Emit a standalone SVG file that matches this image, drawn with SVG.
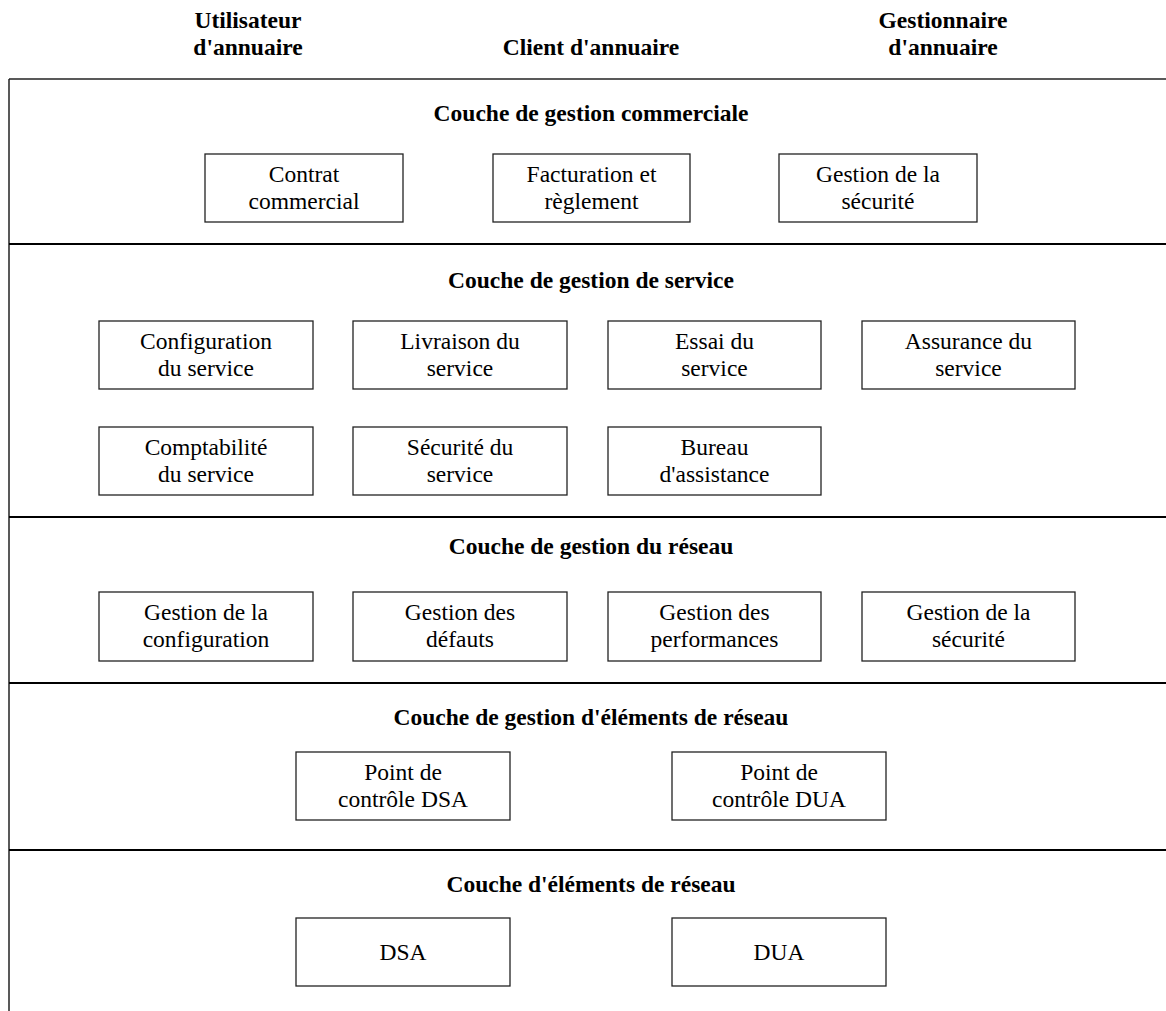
<svg xmlns="http://www.w3.org/2000/svg" width="1166" height="1011" viewBox="0 0 1166 1011">
<style>
.hdr{font-family:"Liberation Serif","Times New Roman",serif;font-size:23.5px;font-weight:bold;text-anchor:middle;fill:#000}
.ttl{font-family:"Liberation Serif","Times New Roman",serif;font-size:23.5px;font-weight:bold;text-anchor:middle;fill:#000}
.lbl{font-family:"Liberation Serif","Times New Roman",serif;font-size:23.5px;text-anchor:middle;fill:#000}
.box{fill:#fff;stroke:#222;stroke-width:1.3}
.sep{stroke:#000;stroke-width:2.2}
.frame{stroke:#222;stroke-width:1.5;fill:none}
</style>
<rect width="1166" height="1011" fill="#fff"/>
<g id="headers">
<text class="hdr" x="248" y="28">Utilisateur</text>
<text class="hdr" x="248" y="55">d'annuaire</text>
<text class="hdr" x="591" y="55">Client d'annuaire</text>
<text class="hdr" x="943" y="28">Gestionnaire</text>
<text class="hdr" x="943" y="55">d'annuaire</text>
</g>
<g id="connectors">
<line class="frame" x1="9" y1="79" x2="9" y2="1011"/>
<line class="frame" x1="9" y1="79" x2="1166" y2="79"/>
<line class="sep" x1="9" y1="244" x2="1166" y2="244"/>
<line class="sep" x1="9" y1="517" x2="1166" y2="517"/>
<line class="sep" x1="9" y1="683" x2="1166" y2="683"/>
<line class="sep" x1="9" y1="850" x2="1166" y2="850"/>
</g>
<g id="layer-commercial">
<text class="ttl" x="591" y="121">Couche de gestion commerciale</text>
<g id="contrat-commercial"><rect class="box" x="205" y="154" width="198" height="68"/><text class="lbl" x="304" y="182">Contrat</text><text class="lbl" x="304" y="209">commercial</text></g>
<g id="facturation"><rect class="box" x="493" y="154" width="197" height="68"/><text class="lbl" x="591.5" y="182">Facturation et</text><text class="lbl" x="591.5" y="209">règlement</text></g>
<g id="gestion-securite-commerciale"><rect class="box" x="779" y="154" width="198" height="68"/><text class="lbl" x="878" y="182">Gestion de la</text><text class="lbl" x="878" y="209">sécurité</text></g>
</g>
<g id="layer-service">
<text class="ttl" x="591" y="288">Couche de gestion de service</text>
<g id="configuration-service"><rect class="box" x="99" y="321" width="214" height="68"/><text class="lbl" x="206" y="349">Configuration</text><text class="lbl" x="206" y="376">du service</text></g>
<g id="livraison-service"><rect class="box" x="353" y="321" width="214" height="68"/><text class="lbl" x="460" y="349">Livraison du</text><text class="lbl" x="460" y="376">service</text></g>
<g id="essai-service"><rect class="box" x="608" y="321" width="213" height="68"/><text class="lbl" x="714.5" y="349">Essai du</text><text class="lbl" x="714.5" y="376">service</text></g>
<g id="assurance-service"><rect class="box" x="862" y="321" width="213" height="68"/><text class="lbl" x="968.5" y="349">Assurance du</text><text class="lbl" x="968.5" y="376">service</text></g>
<g id="comptabilite-service"><rect class="box" x="99" y="427" width="214" height="68"/><text class="lbl" x="206" y="455">Comptabilité</text><text class="lbl" x="206" y="482">du service</text></g>
<g id="securite-service"><rect class="box" x="353" y="427" width="214" height="68"/><text class="lbl" x="460" y="455">Sécurité du</text><text class="lbl" x="460" y="482">service</text></g>
<g id="bureau-assistance"><rect class="box" x="608" y="427" width="213" height="68"/><text class="lbl" x="714.5" y="455">Bureau</text><text class="lbl" x="714.5" y="482">d'assistance</text></g>
</g>
<g id="layer-reseau">
<text class="ttl" x="591" y="554">Couche de gestion du réseau</text>
<g id="gestion-configuration"><rect class="box" x="99" y="592" width="214" height="69"/><text class="lbl" x="206" y="620">Gestion de la</text><text class="lbl" x="206" y="647">configuration</text></g>
<g id="gestion-defauts"><rect class="box" x="353" y="592" width="214" height="69"/><text class="lbl" x="460" y="620">Gestion des</text><text class="lbl" x="460" y="647">défauts</text></g>
<g id="gestion-performances"><rect class="box" x="608" y="592" width="213" height="69"/><text class="lbl" x="714.5" y="620">Gestion des</text><text class="lbl" x="714.5" y="647">performances</text></g>
<g id="gestion-securite-reseau"><rect class="box" x="862" y="592" width="213" height="69"/><text class="lbl" x="968.5" y="620">Gestion de la</text><text class="lbl" x="968.5" y="647">sécurité</text></g>
</g>
<g id="layer-gestion-elements">
<text class="ttl" x="591" y="725">Couche de gestion d'éléments de réseau</text>
<g id="point-controle-dsa"><rect class="box" x="296" y="752" width="214" height="68"/><text class="lbl" x="403" y="780">Point de</text><text class="lbl" x="403" y="807">contrôle DSA</text></g>
<g id="point-controle-dua"><rect class="box" x="672" y="752" width="214" height="68"/><text class="lbl" x="779" y="780">Point de</text><text class="lbl" x="779" y="807">contrôle DUA</text></g>
</g>
<g id="layer-elements">
<text class="ttl" x="591" y="892">Couche d'éléments de réseau</text>
<g id="dsa"><rect class="box" x="296" y="918" width="214" height="68"/><text class="lbl" x="403" y="960">DSA</text></g>
<g id="dua"><rect class="box" x="672" y="918" width="214" height="68"/><text class="lbl" x="779" y="960">DUA</text></g>
</g>
</svg>
